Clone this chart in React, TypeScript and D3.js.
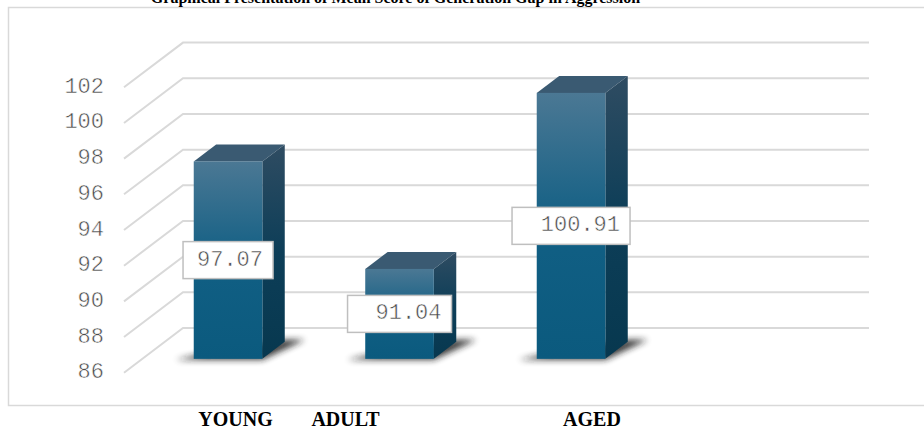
import React from "react";
import * as d3 from "d3";

// Mean aggression scores by generation
const categories = ["YOUNG", "ADULT", "AGED"];
const meanScores = [97.07, 91.04, 100.91];
const yTicks = [86, 88, 90, 92, 94, 96, 98, 100, 102];
const titleText = "Graphical Presentation of Mean Score of Generation Gap in Aggression";

const W = 924;
const H = 430;

// 3D frame geometry: front plane of the floor/left wall and depth offsets
const FRONT_LEFT = 124;
const FRONT_RIGHT = 810;
const DEPTH_DX = 59;
const DEPTH_DY = -44.7;
const BAR_FRONT = 0.31; // depth fraction of the bar front face
const BAR_BACK = 0.69; // depth fraction of the bar back face
const SLOT_COUNT = 4; // three categories plus one empty slot on the right

// Category captions sit on the page below the chart frame
const captionX = [235.5, 345.5, 592];
// Width of the value callout boxes
const calloutW = [90, 104, 118];

export default function App() {
  const yFront = d3.scaleLinear().domain([86, 102]).range([372.7, 87.3]);
  const slots = d3
    .scaleBand<number>()
    .domain(d3.range(SLOT_COUNT))
    .range([FRONT_LEFT, FRONT_RIGHT])
    .padding(0);

  const barW = slots.bandwidth() * 0.4;
  const fdx = BAR_FRONT * DEPTH_DX;
  const fdy = BAR_FRONT * DEPTH_DY;
  const bdx = (BAR_BACK - BAR_FRONT) * DEPTH_DX;
  const bdy = (BAR_BACK - BAR_FRONT) * DEPTH_DY;

  const bars = meanScores.map((v, i) => {
    const cx = (slots(i) as number) + slots.bandwidth() / 2 + fdx;
    const x0 = cx - barW / 2;
    const x1 = cx + barW / 2;
    const yTop = yFront(v) + fdy;
    const yBot = yFront(86) + fdy;
    return { v, i, cx, x0, x1, yTop, yBot };
  });

  const mono = "'Liberation Mono', 'Courier New', monospace";
  const serif = "'Liberation Serif', 'Times New Roman', serif";
  // thin the monospaced glyphs slightly with a white outline
  const thin = { stroke: "#fff", strokeWidth: 0.5 };

  return (
    <svg
      width={W}
      height={H}
      viewBox={`0 0 ${W} ${H}`}
      style={{ position: "absolute", left: 0, top: 0, background: "#fff" }}
    >
      <defs>
        <linearGradient id="frontGrad" x1="0" y1="0" x2="0" y2="1">
          <stop offset="0" stopColor="#4b7894" />
          <stop offset="0.5" stopColor="#115f84" />
          <stop offset="1" stopColor="#0b5a7e" />
        </linearGradient>
        <linearGradient id="sideGrad" x1="0" y1="0" x2="0" y2="1">
          <stop offset="0" stopColor="#2f4c62" />
          <stop offset="0.5" stopColor="#0d3e58" />
          <stop offset="1" stopColor="#07384f" />
        </linearGradient>
        <filter id="shadowBlur" x="-30%" y="-100%" width="160%" height="300%">
          <feGaussianBlur stdDeviation="3" />
        </filter>
      </defs>

      {/* chart frame */}
      <rect x={8.5} y={7.5} width={930} height={398} fill="#fff" stroke="#d9d9d9" strokeWidth={1.5} />

      {/* title */}
      <text
        x={395.5}
        y={3}
        textAnchor="middle"
        fontFamily={serif}
        fontWeight="bold"
        fontSize={16}
        fill="#000"
      >
        {titleText}
      </text>

      {/* gridlines: left wall diagonals and back wall horizontals */}
      <g stroke="#d9d9d9" strokeWidth={2} fill="none">
        {yTicks.map((t) => (
          <path
            key={t}
            d={`M${FRONT_LEFT},${yFront(t)} L${FRONT_LEFT + DEPTH_DX},${yFront(t) + DEPTH_DY} L${FRONT_RIGHT + DEPTH_DX},${yFront(t) + DEPTH_DY}`}
          />
        ))}
      </g>

      {/* y axis labels */}
      <g fontFamily={mono} fontSize={22} fill="#4a4a4a" textAnchor="end" {...thin}>
        {yTicks.map((t) => (
          <text key={t} x={104} y={yFront(t)} dominantBaseline="central">
            {t}
          </text>
        ))}
      </g>

      {/* floor shadows */}
      <g filter="url(#shadowBlur)" fill="#1a1a1a" opacity={0.85}>
        {bars.map((b) => (
          <path
            key={b.i}
            d={`M${b.x0 - 18},${b.yBot + 1} L${b.x1},${b.yBot + 1} L${b.x1 + bdx + 20},${b.yBot + bdy - 2} L${b.x1 + bdx},${b.yBot + bdy - 2} L${b.x0},${b.yBot - 3} Z`}
          />
        ))}
      </g>

      {/* 3D columns */}
      {bars.map((b) => (
        <g key={b.i}>
          <path
            d={`M${b.x0},${b.yTop} L${b.x0 + bdx},${b.yTop + bdy} L${b.x1 + bdx},${b.yTop + bdy} L${b.x1},${b.yTop} Z`}
            fill="#3a5a72"
          />
          <path
            d={`M${b.x1},${b.yTop} L${b.x1 + bdx},${b.yTop + bdy} L${b.x1 + bdx},${b.yBot + bdy} L${b.x1},${b.yBot} Z`}
            fill="url(#sideGrad)"
          />
          <rect x={b.x0} y={b.yTop} width={b.x1 - b.x0} height={b.yBot - b.yTop} fill="url(#frontGrad)" />
        </g>
      ))}

      {/* value callouts */}
      {bars.map((b) => {
        const bw = calloutW[b.i];
        const bh = 37;
        const my = (b.yTop + b.yBot) / 2;
        const bx = b.cx - bw / 2;
        return (
          <g key={b.i}>
            <rect x={bx} y={my - bh / 2} width={bw} height={bh} fill="#fff" stroke="#bfbfbf" strokeWidth={1.5} />
            <text
              x={bx + bw - 10}
              y={my}
              textAnchor="end"
              dominantBaseline="central"
              fontFamily={mono}
              fontSize={22}
              fill="#4a4a4a"
              {...thin}
            >
              {b.v.toFixed(2)}
            </text>
          </g>
        );
      })}

      {/* category captions */}
      <g fontFamily={serif} fontWeight="bold" fontSize={20} fill="#000" textAnchor="middle">
        {categories.map((c, i) => (
          <text key={c} x={captionX[i]} y={426}>
            {c}
          </text>
        ))}
      </g>
    </svg>
  );
}
